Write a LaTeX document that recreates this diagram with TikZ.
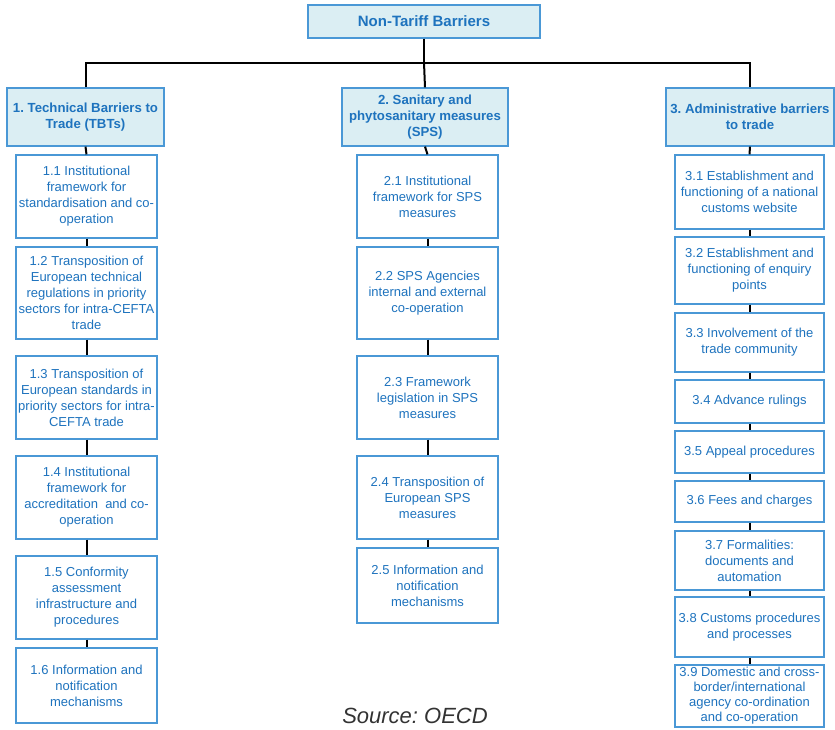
\documentclass[tikz,border=0pt]{standalone}
\usepackage{fontspec}
\setmainfont{Liberation Sans}
\usepackage{xcolor}
\usetikzlibrary{positioning, calc}
\definecolor{ntbBorder}{HTML}{4A98D6}
\definecolor{ntbText}{HTML}{1E73BE}
\definecolor{ntbFill}{HTML}{DBEEF3}
\definecolor{ntbSource}{HTML}{333333}
\frenchspacing

\begin{document}
\begin{tikzpicture}[
    x=1pt, y=-1pt,
    tbox/.style={rectangle, draw=ntbBorder, line width=1.2pt, fill=ntbFill, text=ntbText,
      font=\fontsize{15}{17}\selectfont\bfseries, inner sep=1pt, align=center},
    hbox/.style={tbox, font=\fontsize{13.2}{16}\selectfont\bfseries, minimum height=58pt},
    sbox/.style={rectangle, draw=ntbBorder, line width=1.2pt, fill=white, text=ntbText,
      font=\fontsize{13}{16}\selectfont, inner sep=0pt, align=center},
    colA/.style={sbox, minimum width=141pt},
    colB/.style={sbox, minimum width=141pt},
    colC/.style={sbox, minimum width=149pt},
    conn/.style={line width=2pt, black}
  ]
  \useasboundingbox (0,0) rectangle (835,729);

  % top and headers
  \node[tbox, minimum width=232pt, minimum height=33pt] (ntb) at (424,21.5) {Non-Tariff Barriers};
  \node[hbox, minimum width=157pt] (tbt) at (85.5,117) {1. Technical Barriers to\\Trade (TBTs)};
  \node[hbox, minimum width=166pt] (sps) at (425,117) {2. Sanitary and\\phytosanitary measures\\(SPS)};
  \node[hbox, minimum width=168pt] (adm) at (750,117) {3. Administrative barriers\\to trade};

  % column 1
  \node[colA, minimum height=83pt] (tbt1) at (86.5,196.5) {1.1 Institutional\\framework for\\standardisation and co-\\operation};
  \node[colA, minimum height=92pt] (tbt2) at (86.5,293) {1.2 Transposition of\\European technical\\regulations in priority\\sectors for intra-CEFTA\\trade};
  \node[colA, minimum height=83pt] (tbt3) at (86.5,397.5) {1.3 Transposition of\\European standards in\\priority sectors for intra-\\CEFTA trade};
  \node[colA, minimum height=83pt] (tbt4) at (86.5,497.5) {1.4 Institutional\\framework for\\accreditation~ and co-\\operation};
  \node[colA, minimum height=83pt] (tbt5) at (86.5,597.5) {1.5 Conformity\\assessment\\infrastructure and\\procedures};
  \node[colA, minimum height=75pt] (tbt6) at (86.5,685.5) {1.6 Information and\\notification\\mechanisms};

  % column 2
  \node[colB, minimum height=83pt] (sps1) at (427.5,196.5) {2.1 Institutional\\framework for SPS\\measures};
  \node[colB, minimum height=92pt] (sps2) at (427.5,293) {2.2 SPS Agencies\\internal and external\\co-operation};
  \node[colB, minimum height=83pt] (sps3) at (427.5,397.5) {2.3 Framework\\legislation in SPS\\measures};
  \node[colB, minimum height=83pt] (sps4) at (427.5,497.5) {2.4 Transposition of\\European SPS\\measures};
  \node[colB, minimum height=75pt] (sps5) at (427.5,585.5) {2.5 Information and\\notification\\mechanisms};

  % column 3
  \node[colC, minimum height=74pt] (adm1) at (749.5,192) {3.1 Establishment and\\functioning of a national\\customs website};
  \node[colC, minimum height=67pt] (adm2) at (749.5,270.5) {3.2 Establishment and\\functioning of enquiry\\points};
  \node[colC, minimum height=59pt] (adm3) at (749.5,342.5) {3.3 Involvement of the\\trade community};
  \node[colC, minimum height=43pt] (adm4) at (749.5,401.5) {3.4 Advance rulings};
  \node[colC, minimum height=42pt] (adm5) at (749.5,452) {3.5 Appeal procedures};
  \node[colC, minimum height=41pt] (adm6) at (749.5,501.5) {3.6 Fees and charges};
  \node[colC, minimum height=59pt] (adm7) at (749.5,560.5) {3.7 Formalities:\\documents and\\automation};
  \node[colC, minimum height=60pt] (adm8) at (749.5,627) {3.8 Customs procedures\\and processes};
  \node[colC, minimum height=62pt, font=\fontsize{13}{15}\selectfont] (adm9) at (749.5,696) {3.9 Domestic and cross-\\border/international\\agency co-ordination\\and co-operation};

  \node[font=\fontsize{22}{24}\selectfont\itshape, text=ntbSource, inner sep=1pt] (src) at (415,716) {Source: OECD};

  % connectors
  \coordinate (bar) at (424,62.5);
  \draw[conn] (ntb.south) -- (bar);
  \draw[conn] (tbt.north) -- (tbt.north |- bar) -- (adm.north |- bar) -- (adm.north);
  \draw[conn] (bar) -- (sps.north);
  \foreach \a/\b in {tbt/tbt1, tbt1/tbt2, tbt2/tbt3, tbt3/tbt4, tbt4/tbt5, tbt5/tbt6,
                     sps/sps1, sps1/sps2, sps2/sps3, sps3/sps4, sps4/sps5,
                     adm/adm1, adm1/adm2, adm2/adm3, adm3/adm4, adm4/adm5, adm5/adm6,
                     adm6/adm7, adm7/adm8, adm8/adm9}
    \draw[conn] (\a.south) -- (\b.north);
\end{tikzpicture}
\end{document}
